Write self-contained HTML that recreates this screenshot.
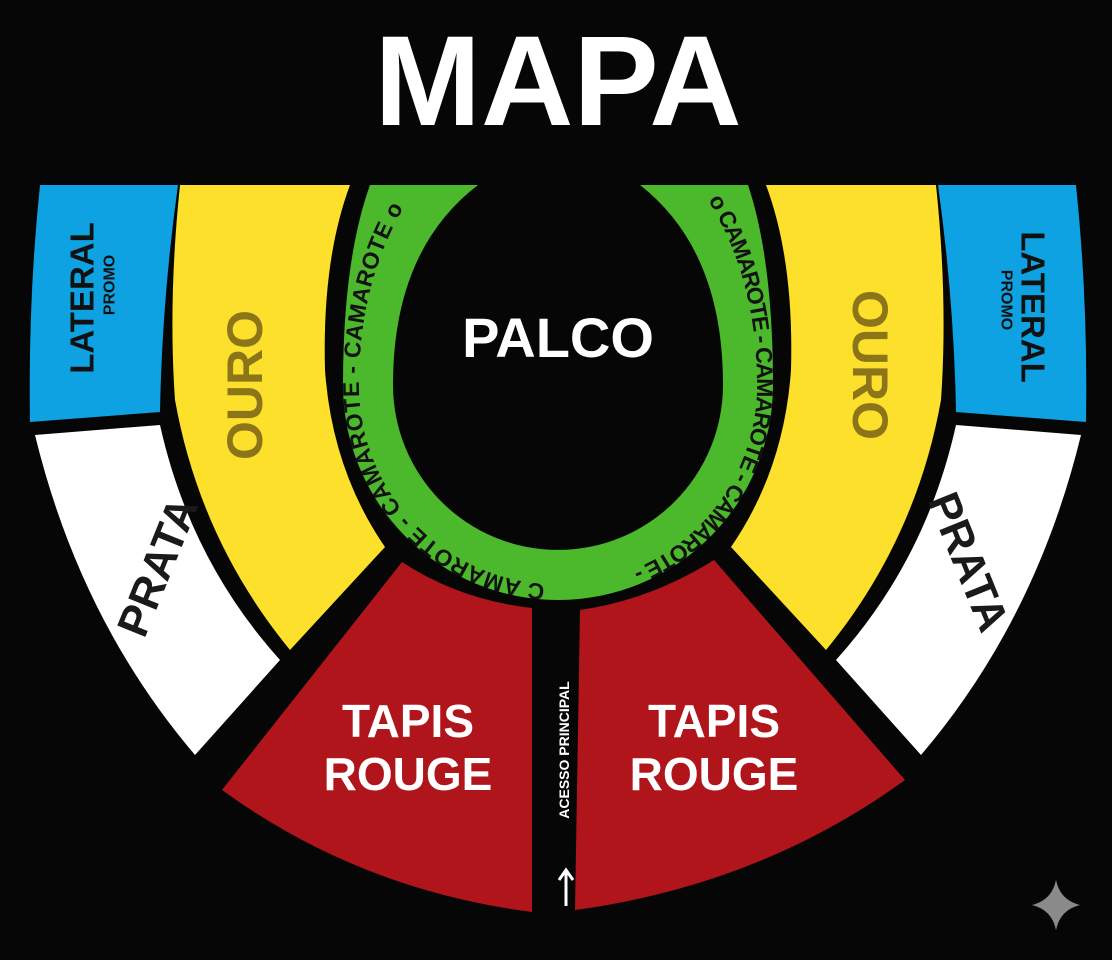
<!DOCTYPE html>
<html><head><meta charset="utf-8"><style>
html,body{margin:0;padding:0;background:#060606;}
svg{display:block}
text{font-family:"Liberation Sans",sans-serif;font-weight:bold}
</style></head><body>
<svg width="1112" height="960" viewBox="0 0 1112 960" xmlns="http://www.w3.org/2000/svg">
<rect width="1112" height="960" fill="#060606"/>
<text x="558" y="125" font-size="128" fill="#fff" text-anchor="middle">MAPA</text>

<path d="M370 185 Q343 260 343 385 A215 215 0 0 0 773 385 Q773 260 748 185 Z" fill="#4cb82b"/>
<path d="M478 185 Q393 250 393 385 A165 165 0 0 0 723 385 Q723 250 640 185 Z" fill="#060606"/>

<g>
<path d="M40 185 L178 185 Q162 300 160 412 L30 422 Q28 300 40 185 Z" fill="#0ea2e2"/>
<path d="M35 435 L160 425 Q190 560 280 660 L195 755 Q80 620 35 435 Z" fill="#fff"/>
<path d="M180 185 L350 185 Q322 260 325 370 Q332 470 385 547 L290 650 Q200 540 175 400 Q168 300 180 185 Z" fill="#fde02c"/>
</g>
<g transform="translate(1116,0) scale(-1,1)">
<path d="M40 185 L178 185 Q162 300 160 412 L30 422 Q28 300 40 185 Z" fill="#0ea2e2"/>
<path d="M35 435 L160 425 Q190 560 280 660 L195 755 Q80 620 35 435 Z" fill="#fff"/>
<path d="M180 185 L350 185 Q322 260 325 370 Q332 470 385 547 L290 650 Q200 540 175 400 Q168 300 180 185 Z" fill="#fde02c"/>
</g>

<path d="M402 562 Q460 600 532 608 L532 912 Q360 890 222 790 Z" fill="#b0151b"/>
<path d="M714 560 Q650 600 580 610 L575 910 Q760 885 905 780 Z" fill="#b0151b"/>

<text x="558" y="357" font-size="56" fill="#fff" text-anchor="middle">PALCO</text>

<text font-size="46" fill="#fff" text-anchor="middle"><tspan x="408" y="737">TAPIS</tspan><tspan x="408" y="790">ROUGE</tspan></text>
<text font-size="46" fill="#fff" text-anchor="middle"><tspan x="714" y="737">TAPIS</tspan><tspan x="714" y="790">ROUGE</tspan></text>

<text transform="translate(245,385) rotate(-90)" font-size="50" fill="#8c7518" text-anchor="middle" dominant-baseline="central">OURO</text>
<text transform="translate(870,365) rotate(90)" font-size="50" fill="#8c7518" text-anchor="middle" dominant-baseline="central">OURO</text>

<text transform="translate(158,567) rotate(-68)" font-size="44" fill="#1a1a1a" text-anchor="middle" dominant-baseline="central">PRATA</text>
<text transform="translate(968,562) rotate(68)" font-size="44" fill="#1a1a1a" text-anchor="middle" dominant-baseline="central">PRATA</text>

<text transform="translate(82,298) rotate(-90)" font-size="33" fill="#111" text-anchor="middle" dominant-baseline="central">LATERAL</text>
<text transform="translate(110,285) rotate(-90)" font-size="16" fill="#111" text-anchor="middle" dominant-baseline="central">PROMO</text>
<text transform="translate(1033,307) rotate(90)" font-size="33" fill="#111" text-anchor="middle" dominant-baseline="central">LATERAL</text>
<text transform="translate(1006,300) rotate(90)" font-size="16" fill="#111" text-anchor="middle" dominant-baseline="central">PROMO</text>

<defs>
<path id="arcL" d="M545 584 A199 199 0 0 1 359 385 Q359 280 408 200"/>
<path id="arcR" d="M708 200 Q757 280 757 385 A199 199 0 0 1 571 584"/>
</defs>
<text font-size="23" fill="#111"><textPath href="#arcL" textLength="485" lengthAdjust="spacing">C AMAROTE - CAMAROTE - CAMAROTE o</textPath></text>
<text font-size="23" fill="#111"><textPath href="#arcR" textLength="430" lengthAdjust="spacing">o CAMAROTE - CAMAROTE - CAMAROTE -</textPath></text>

<text transform="translate(569,750) rotate(-90)" font-size="14" fill="#fff" text-anchor="middle">ACESSO PRINCIPAL</text>
<path d="M566 906 L566 872 M559 880 L566 870 L573 880" stroke="#fff" stroke-width="3" fill="none"/>

<path d="M1056 880 Q1060 900 1080 905 Q1060 910 1056 930 Q1052 910 1032 905 Q1052 900 1056 880 Z" fill="#8a8a8a"/>
</svg>
</body></html>
